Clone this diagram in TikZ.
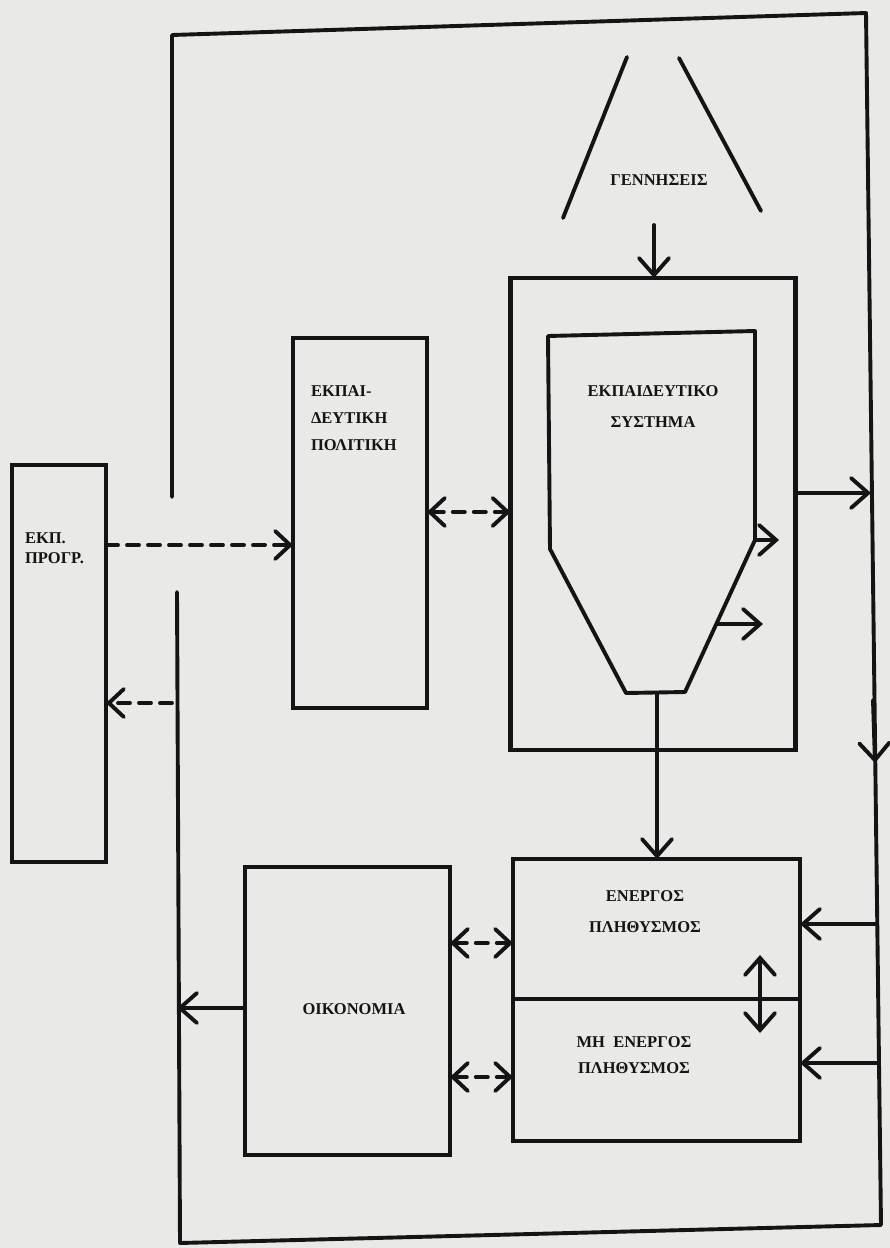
\documentclass[tikz,border=0pt]{standalone}
\usepackage{fontspec}
\setmainfont{Liberation Serif}
\usetikzlibrary{arrows.meta}
\definecolor{paper}{RGB}{233,233,231}
\definecolor{ink}{RGB}{20,20,20}
\begin{document}
\begin{tikzpicture}[x=1pt,y=-1pt,
  every node/.style={inner sep=0pt,outer sep=0pt},
  box/.style={draw=ink,line width=4.2pt,rectangle},
  lbl/.style={font=\fontsize{16.5}{20}\selectfont\bfseries,text=ink},
  wire/.style={draw=ink,line width=3.9pt,line cap=round,line join=round},
  arr/.style={wire,-{Straight Barb[length=17pt,width=30pt,line cap=round]}},
  darr/.style={wire,dash pattern=on 12pt off 9pt,-{Straight Barb[length=15pt,width=28pt,line cap=round]}},
  ddarr/.style={wire,dash pattern=on 12pt off 9pt,{Straight Barb[length=15pt,width=28pt,line cap=round]}-{Straight Barb[length=15pt,width=28pt,line cap=round]}}
]
\useasboundingbox[fill=paper] (0,0) rectangle (890,1248);

% outer frame (open on the left where the dashed arrow passes)
\draw[wire] (172,497) -- (172,35) -- (866,13) -- (881,1225) -- (180,1243) -- (177,592);

% boxes
\node[box,minimum width=94pt,minimum height=397pt] (prog) at (59,663.5) {};
\node[box,minimum width=134pt,minimum height=370pt] (pol) at (360,523) {};
\node[box,minimum width=285pt,minimum height=472pt] (sys) at (653,514) {};
\node[box,minimum width=205pt,minimum height=288pt] (oik) at (347.5,1011) {};
\node[box,minimum width=287pt,minimum height=282pt] (pop) at (656.5,1000) {};
\draw[wire] (pop.west |- 0,999) -- (pop.east |- 0,999);

% funnel inside the educational system
\draw[wire] (548,336) -- (755,331) -- (755,540) -- (685,692) -- (626,693) -- (550,549) -- cycle;
\coordinate (fbot) at (657,693);
\coordinate (fout1) at (755,540);
\coordinate (fout2) at (718,624);

% births
\draw[wire] (627,57) -- (563,218);
\draw[wire] (679,58) -- (761,211);
\node[lbl] (gen) at (659,180) {ΓΕΝΝΗΣΕΙΣ};
\coordinate (gstart) at (654,225);
\draw[arr] (gstart) -- (gstart |- sys.north);

% labels
\node[lbl,align=center,font=\fontsize{16.5}{31}\selectfont\bfseries] (systxt) at (653,407) {ΕΚΠΑΙΔΕΥΤΙΚΟ\\ΣΥΣΤΗΜΑ};
\node[lbl,align=left,anchor=west,font=\fontsize{16.5}{27}\selectfont\bfseries] (poltxt) at (311,418) {ΕΚΠΑΙ-\\ΔΕΥΤΙΚΗ\\ΠΟΛΙΤΙΚΗ};
\node[lbl,align=left,anchor=west,font=\fontsize{16.5}{20}\selectfont\bfseries] (progtxt) at (25,548) {ΕΚΠ.\\ΠΡΟΓΡ.};
\node[lbl] (oiktxt) at (354,1009) {ΟΙΚΟΝΟΜΙΑ};
\node[lbl,align=center,font=\fontsize{16.5}{31}\selectfont\bfseries] (acttxt) at (645,912) {ΕΝΕΡΓΟΣ\\ΠΛΗΘΥΣΜΟΣ};
\node[lbl,align=center,font=\fontsize{16.5}{26}\selectfont\bfseries] (inacttxt) at (634,1055) {ΜΗ\ \ ΕΝΕΡΓΟΣ\\ΠΛΗΘΥΣΜΟΣ};

% dashed connectors
\draw[darr] (prog.east |- 0,545) -- (pol.west |- 0,545);
\coordinate (wallL) at (172,703);
\draw[darr] (wallL) -- (prog.east |- wallL);
\draw[ddarr] (pol.east |- 0,512) -- (sys.west |- 0,512);
\draw[ddarr] (oik.east |- 0,943) -- (pop.west |- 0,943);
\draw[ddarr] (oik.east |- 0,1077) -- (pop.west |- 0,1077);

% solid connectors
\draw[arr] (fbot) -- (fbot |- pop.north);
\draw[arr] (fout1) -- (779,540);
\draw[arr] (fout2) -- (763,624);
\coordinate (wallE) at (871,493);
\draw[arr] (sys.east |- wallE) -- (wallE);
\draw[arr] (873,700) -- (875,763);
\coordinate (wallA) at (877,924);
\coordinate (wallB) at (879,1063);
\draw[arr] (wallA) -- (pop.east |- wallA);
\draw[arr] (wallB) -- (pop.east |- wallB);
\coordinate (wallO) at (177,1008);
\draw[arr] (oik.west |- wallO) -- (wallO);
\draw[wire,{Straight Barb[length=17pt,width=30pt,line cap=round]}-{Straight Barb[length=17pt,width=30pt,line cap=round]}] (760,955) -- (760,1033);
\end{tikzpicture}
\end{document}
